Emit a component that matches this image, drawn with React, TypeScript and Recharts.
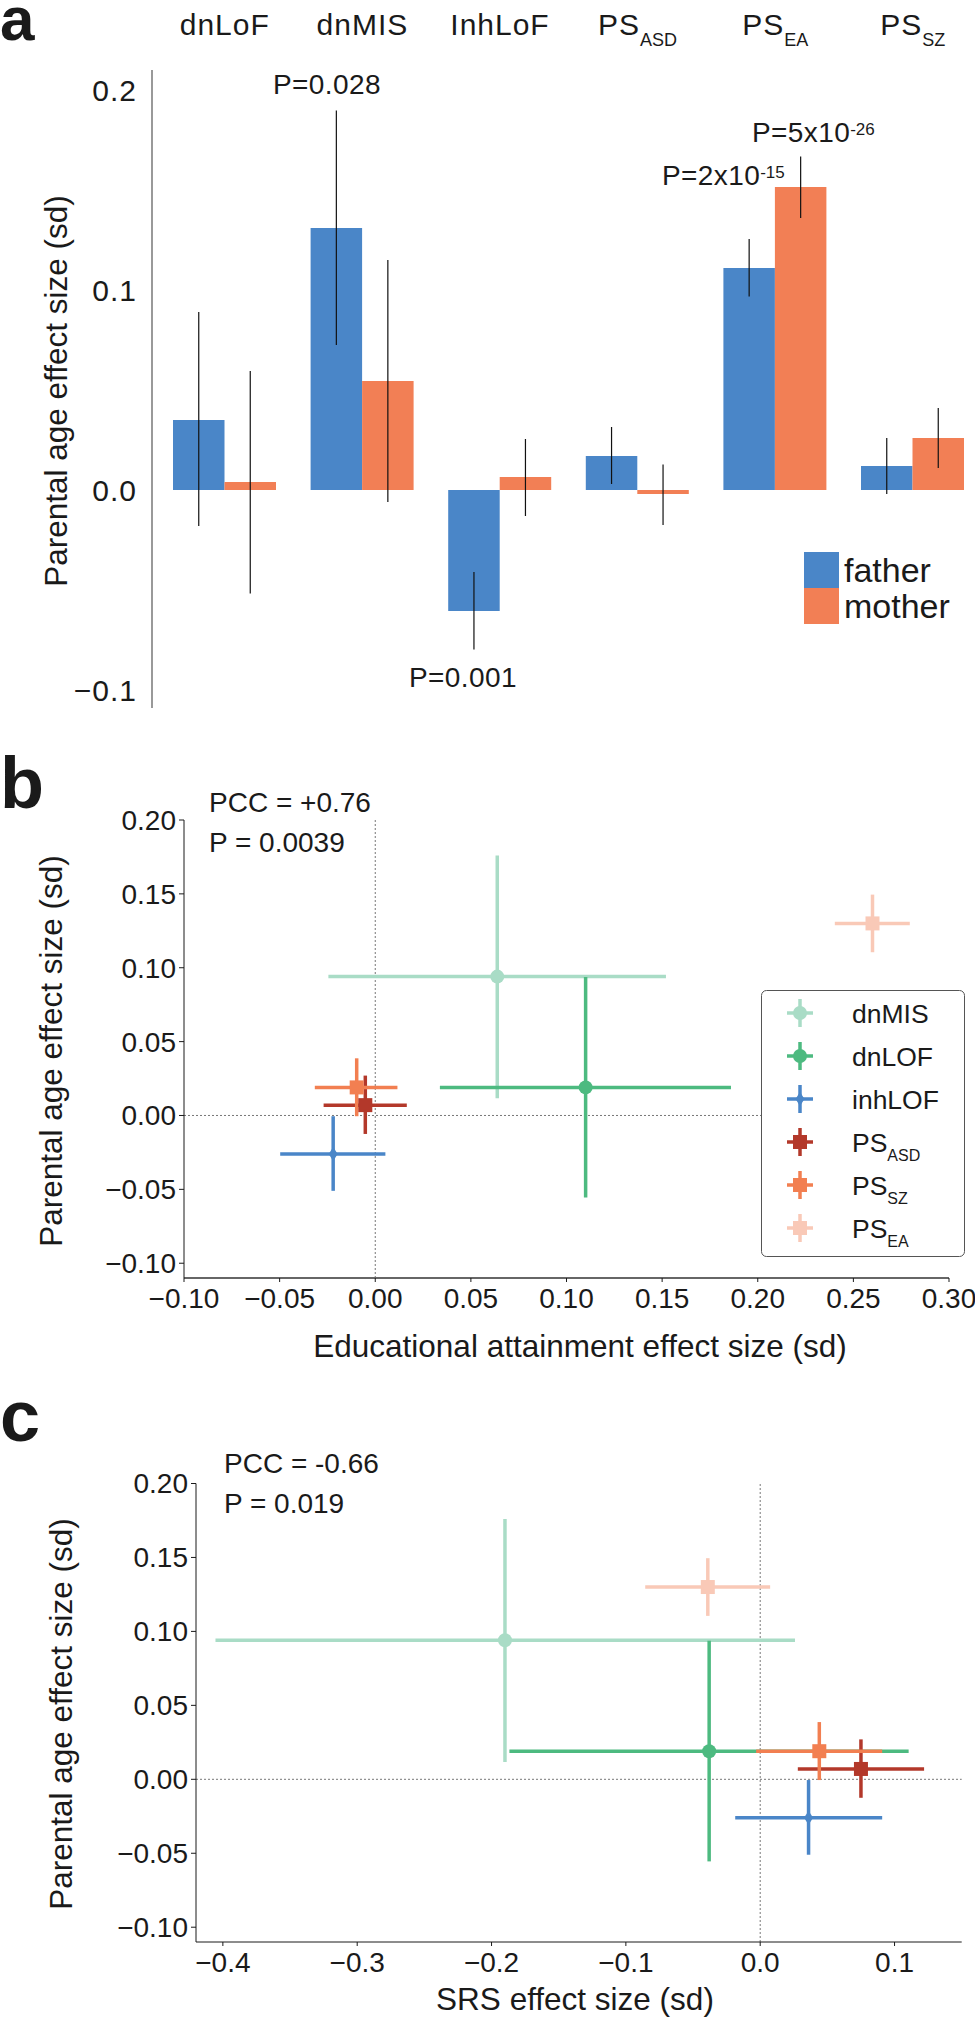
import React from "react";
import {
  Bar,
  ComposedChart,
  ErrorBar,
  Legend,
  ReferenceLine,
  Scatter,
  ScatterChart,
  XAxis,
  YAxis,
} from "recharts";

const FONT = "'Liberation Sans', Arial, Helvetica, sans-serif";
const INK = "#1a1a1a";
const FATHER = "#4a86c8";
const MOTHER = "#f27f55";

// panel a: parental age effect per variant class
const categories = ["dnLoF", "dnMIS", "InhLoF", "PS_ASD", "PS_EA", "PS_SZ"];
const fatherEffect = [0.035, 0.131, -0.0605, 0.017, 0.111, 0.012];
const fatherLow = [-0.018, 0.0725, -0.0797, 0.003, 0.0967, -0.002];
const fatherHigh = [0.089, 0.1897, -0.041, 0.0315, 0.1255, 0.026];
const motherEffect = [0.004, 0.0545, 0.0065, -0.002, 0.1515, 0.026];
const motherLow = [-0.0517, -0.006, -0.013, -0.0175, 0.136, 0.011];
const motherHigh = [0.0595, 0.115, 0.0255, 0.0128, 0.1667, 0.041];
const barTicks = [-0.1, 0, 0.1, 0.2];

// panels b and c: parental age effect vs EA / SRS effect
const groups = ["dnMIS", "dnLOF", "inhLOF", "PS_ASD", "PS_SZ", "PS_EA"];
const paEffect = [0.094, 0.019, -0.026, 0.007, 0.019, 0.13];
const paLow = [0.0117, -0.0555, -0.051, -0.0125, -0.0005, 0.1105];
const paHigh = [0.176, 0.0937, -0.0005, 0.027, 0.0387, 0.1495];
const eaEffect = [0.0638, 0.11, -0.022, -0.0052, -0.0097, 0.26];
const eaLow = [-0.0245, 0.0338, -0.0497, -0.027, -0.0316, 0.2403];
const eaHigh = [0.152, 0.186, 0.0053, 0.0165, 0.0116, 0.2795];
const srsEffect = [-0.19, -0.038, 0.036, 0.075, 0.044, -0.039];
const srsLow = [-0.4055, -0.1867, -0.0186, 0.028, -0.003, -0.0856];
const srsHigh = [0.0259, 0.1105, 0.0908, 0.122, 0.0908, 0.0074];
const scatterYTicks = [-0.1, -0.05, 0, 0.05, 0.1, 0.15, 0.2];
const eaTicks = [-0.1, -0.05, 0, 0.05, 0.1, 0.15, 0.2, 0.25, 0.3];
const srsTicks = [-0.4, -0.3, -0.2, -0.1, 0, 0.1];

const groupColors = ["#a9dcc6", "#4dba80", "#4a86c8", "#b3382a", "#f27f51", "#f9c9b7"];
const groupShapes = ["circle", "circle", "diamond", "square", "square", "square"];

const barData = categories.map((c, i) => ({
  category: c,
  father: fatherEffect[i],
  mother: motherEffect[i],
  fatherErr: [fatherEffect[i] - fatherLow[i], fatherHigh[i] - fatherEffect[i]],
  motherErr: [motherEffect[i] - motherLow[i], motherHigh[i] - motherEffect[i]],
}));

const fmt = (digits: number) => (v: number) => v.toFixed(digits).replace("-", "\u2212");

function CategoryTick(props: any) {
  const { x, y, payload } = props;
  const [main, sub] = String(payload.value).split("_");
  return (
    <text x={x} y={y} textAnchor="middle" fontSize={30} letterSpacing={1} fill={INK} fontFamily={FONT}>
      {main}
      {sub && (
        <tspan dy={11} fontSize={18} letterSpacing={0}>
          {sub}
        </tspan>
      )}
    </text>
  );
}

function Marker({ kind, cx, cy, color }: { kind: string; cx: number; cy: number; color: string }) {
  if (kind === "circle") return <circle cx={cx} cy={cy} r={7} fill={color} />;
  if (kind === "diamond")
    return (
      <polygon
        points={`${cx},${cy - 7} ${cx + 4.5},${cy} ${cx},${cy + 7} ${cx - 4.5},${cy}`}
        fill={color}
      />
    );
  return <rect x={cx - 7} y={cy - 7} width={14} height={14} fill={color} />;
}

function ParentLegend() {
  return (
    <svg width={170} height={74} style={{ display: "block" }}>
      <rect x={0} y={0} width={35} height={36} fill={FATHER} />
      <rect x={0} y={36} width={35} height={36} fill={MOTHER} />
      <text x={40} y={30} fontSize={34} fill={INK} fontFamily={FONT}>
        father
      </text>
      <text x={40} y={66} fontSize={34} fill={INK} fontFamily={FONT}>
        mother
      </text>
    </svg>
  );
}

function GroupLegend() {
  return (
    <svg width={204} height={267} style={{ display: "block" }}>
      <rect x={0.5} y={0.5} width={203} height={266} rx={5} fill="#fff" stroke="#555" />
      {groups.map((g, i) => {
        const cy = 23 + i * 43;
        const [main, sub] = g.split("_");
        return (
          <g key={g}>
            <line x1={26} x2={52} y1={cy} y2={cy} stroke={groupColors[i]} strokeWidth={3.5} />
            <line x1={39} x2={39} y1={cy - 14} y2={cy + 14} stroke={groupColors[i]} strokeWidth={3.5} />
            <Marker kind={groupShapes[i]} cx={39} cy={cy} color={groupColors[i]} />
            <text x={91} y={cy + 10} fontSize={26.5} fill={INK} fontFamily={FONT}>
              {main}
              {sub && (
                <tspan dy={8.5} fontSize={16}>
                  {sub}
                </tspan>
              )}
            </text>
          </g>
        );
      })}
    </svg>
  );
}

type PanelProps = {
  top: number;
  height: number;
  marginTop: number;
  marginRight: number;
  xAxisHeight: number;
  yAxisWidth: number;
  xValues: number[];
  xLow: number[];
  xHigh: number[];
  xDomain: [number, number];
  xTicks: number[];
  xDigits: number;
  xAxisStroke: string;
  xAxisWidth: number;
  legend?: boolean;
};

function ScatterPanel(p: PanelProps) {
  const tickStyle = { fill: INK, fontSize: 28, fontFamily: FONT };
  return (
    <div style={{ position: "absolute", left: 0, top: p.top }}>
      <ScatterChart
        width={975}
        height={p.height}
        margin={{ top: p.marginTop, right: p.marginRight, bottom: 2, left: 0 }}
      >
        <XAxis
          type="number"
          dataKey="x"
          domain={p.xDomain}
          ticks={p.xTicks}
          allowDataOverflow
          interval={0}
          height={p.xAxisHeight}
          tickFormatter={fmt(p.xDigits)}
          tick={tickStyle}
          axisLine={{ stroke: p.xAxisStroke, strokeWidth: p.xAxisWidth }}
          tickLine={{ stroke: INK }}
          tickSize={4}
          tickMargin={6}
        />
        <YAxis
          type="number"
          dataKey="y"
          domain={[-0.11, 0.2]}
          ticks={scatterYTicks}
          allowDataOverflow
          interval={0}
          width={p.yAxisWidth}
          tickFormatter={fmt(2)}
          tick={tickStyle}
          axisLine={{ stroke: INK }}
          tickLine={{ stroke: INK }}
          tickSize={5}
          tickMargin={3}
        />
        <ReferenceLine x={0} stroke="#777" strokeDasharray="2 2" />
        <ReferenceLine y={0} stroke="#777" strokeDasharray="2 2" />
        {groups.map((g, i) => (
          <Scatter
            key={g}
            name={g}
            data={[
              {
                x: p.xValues[i],
                y: paEffect[i],
                xErr: [p.xValues[i] - p.xLow[i], p.xHigh[i] - p.xValues[i]],
                yErr: [paEffect[i] - paLow[i], paHigh[i] - paEffect[i]],
              },
            ]}
            fill={groupColors[i]}
            isAnimationActive={false}
            shape={(s: any) => <Marker kind={groupShapes[i]} cx={s.cx} cy={s.cy} color={groupColors[i]} />}
          >
            <ErrorBar dataKey="xErr" direction="x" width={0} stroke={groupColors[i]} strokeWidth={3.5} />
            <ErrorBar dataKey="yErr" direction="y" width={0} stroke={groupColors[i]} strokeWidth={3.5} />
          </Scatter>
        ))}
        {p.legend && (
          <Legend
            layout="vertical"
            align="center"
            verticalAlign="middle"
            content={() => <GroupLegend />}
            wrapperStyle={{ left: 761, top: 250, width: 204, height: 267 }}
          />
        )}
      </ScatterChart>
    </div>
  );
}

export default function App() {
  const txt = { fill: INK, fontFamily: FONT } as const;
  return (
    <div
      style={{
        position: "absolute",
        left: 0,
        top: 0,
        width: 975,
        height: 2020,
        overflow: "hidden",
        background: "#fff",
        fontFamily: FONT,
      }}
    >
      <div style={{ position: "absolute", left: 0, top: 0 }}>
        <ComposedChart
          width={1000}
          height={730}
          data={barData}
          margin={{ top: 0, right: 18.4, bottom: 22, left: 0 }}
          barGap={0}
          barSize={51.5}
        >
          <XAxis
            dataKey="category"
            orientation="top"
            height={70}
            padding={{ left: 4, right: 0 }}
            axisLine={false}
            tickLine={false}
            tickSize={0}
            tickMargin={35}
            interval={0}
            tick={<CategoryTick />}
          />
          <YAxis
            type="number"
            domain={[-0.109, 0.21]}
            ticks={barTicks}
            allowDataOverflow
            interval={0}
            width={152}
            tickFormatter={fmt(1)}
            tick={{ fill: INK, fontSize: 30, fontFamily: FONT, letterSpacing: 1 }}
            axisLine={{ stroke: "#999", strokeWidth: 2 }}
            tickLine={false}
            tickSize={0}
            tickMargin={15}
          />
          <Bar dataKey="father" fill={FATHER} isAnimationActive={false}>
            <ErrorBar dataKey="fatherErr" width={0} stroke="#111" strokeWidth={1.2} />
          </Bar>
          <Bar dataKey="mother" fill={MOTHER} isAnimationActive={false}>
            <ErrorBar dataKey="motherErr" width={0} stroke="#111" strokeWidth={1.2} />
          </Bar>
          <Legend
            layout="vertical"
            align="center"
            verticalAlign="middle"
            content={() => <ParentLegend />}
            wrapperStyle={{ left: 804, top: 552, width: 170, height: 74 }}
          />
        </ComposedChart>
      </div>

      <ScatterPanel
        top={740}
        height={600}
        marginTop={80}
        marginRight={26}
        xAxisHeight={60}
        yAxisWidth={184}
        xValues={eaEffect}
        xLow={eaLow}
        xHigh={eaHigh}
        xDomain={[-0.1, 0.3]}
        xTicks={eaTicks}
        xDigits={2}
        xAxisStroke="#666"
        xAxisWidth={2}
        legend
      />

      <ScatterPanel
        top={1400}
        height={620}
        marginTop={83.5}
        marginRight={13.3}
        xAxisHeight={76}
        yAxisWidth={196}
        xValues={srsEffect}
        xLow={srsLow}
        xHigh={srsHigh}
        xDomain={[-0.42, 0.15]}
        xTicks={srsTicks}
        xDigits={1}
        xAxisStroke={INK}
        xAxisWidth={1}
      />

      <svg
        width={975}
        height={2020}
        style={{ position: "absolute", left: 0, top: 0, pointerEvents: "none" }}
      >
        <text x={0} y={40} fontSize={62} fontWeight="bold" {...txt}>a</text>
        <text x={0} y={808} fontSize={72} fontWeight="bold" {...txt}>b</text>
        <text x={0} y={1441} fontSize={72} fontWeight="bold" {...txt}>c</text>

        <text x={273} y={94} fontSize={28} letterSpacing={0.4} {...txt}>P=0.028</text>
        <text x={662} y={185} fontSize={28} letterSpacing={0.4} {...txt}>
          P=2x10<tspan dy={-7} fontSize={17} letterSpacing={0}>-15</tspan>
        </text>
        <text x={752} y={142} fontSize={28} letterSpacing={0.4} {...txt}>
          P=5x10<tspan dy={-7} fontSize={17} letterSpacing={0}>-26</tspan>
        </text>
        <text x={409} y={687} fontSize={28} letterSpacing={0.4} {...txt}>P=0.001</text>

        <text x={209} y={812} fontSize={28} {...txt}>PCC = +0.76</text>
        <text x={209} y={852} fontSize={28} {...txt}>P = 0.0039</text>
        <text x={224} y={1473} fontSize={28} {...txt}>PCC = -0.66</text>
        <text x={224} y={1513} fontSize={28} {...txt}>P = 0.019</text>

        <text transform="translate(67,391) rotate(-90)" textAnchor="middle" fontSize={31.5} {...txt}>
          Parental age effect size (sd)
        </text>
        <text transform="translate(62,1051) rotate(-90)" textAnchor="middle" fontSize={31.5} {...txt}>
          Parental age effect size (sd)
        </text>
        <text transform="translate(72,1714) rotate(-90)" textAnchor="middle" fontSize={31.5} {...txt}>
          Parental age effect size (sd)
        </text>
        <text x={580} y={1357} textAnchor="middle" fontSize={31.5} {...txt}>
          Educational attainment effect size (sd)
        </text>
        <text x={575} y={2010} textAnchor="middle" fontSize={31.5} {...txt}>
          SRS effect size (sd)
        </text>
      </svg>
    </div>
  );
}
